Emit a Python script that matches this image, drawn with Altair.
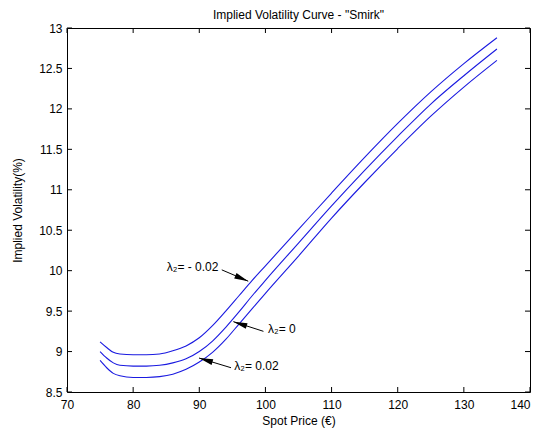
import math
import altair as alt
import pandas as pd

# ---- data ----
spot = [75, 76, 77, 78, 80, 82, 84, 86, 88, 90, 92, 94, 96, 98, 100,
        105, 110, 115, 120, 125, 130, 135]
vol_neg = [9.12, 9.05, 8.99, 8.97, 8.96, 8.96, 8.97, 9.01, 9.07, 9.17, 9.32,
           9.50, 9.69, 9.88, 10.06, 10.51, 10.96, 11.40, 11.82, 12.21, 12.56, 12.88]
vol_zero = [9.00, 8.92, 8.86, 8.83, 8.82, 8.82, 8.83, 8.86, 8.91, 9.00, 9.13,
            9.30, 9.49, 9.69, 9.88, 10.34, 10.80, 11.24, 11.66, 12.06, 12.41, 12.74]
vol_pos = [8.89, 8.80, 8.73, 8.70, 8.68, 8.68, 8.69, 8.72, 8.78, 8.87, 8.99,
           9.15, 9.34, 9.53, 9.72, 10.18, 10.65, 11.09, 11.51, 11.91, 12.27, 12.60]
series_names = ["λ2=-0.02", "λ2=0", "λ2=0.02"]

x_ticks = [70, 80, 90, 100, 110, 120, 130, 140]
y_ticks = [8.5, 9, 9.5, 10, 10.5, 11, 11.5, 12, 12.5, 13]

ann_labels = ["λ₂= - 0.02", "λ₂= 0", "λ₂= 0.02"]
ann_text_x = [92.9, 100.4, 95.3]
ann_text_y = [10.05, 9.28, 8.82]
ann_align = ["right", "left", "left"]
arrow_tail_x = [93.4, 99.7, 94.8]
arrow_tail_y = [10.01, 9.25, 8.80]
arrow_tip_x = [97.4, 95.15, 89.96]
arrow_tip_y = [9.87, 9.37, 8.92]

W, H = 463, 364
XMIN, XMAX, YMIN, YMAX = 70, 140, 8.5, 13
FONT = "Liberation Sans"
TL = 5  # tick length

rows = []
for name, vals in zip(series_names, [vol_neg, vol_zero, vol_pos]):
    for s, v in zip(spot, vals):
        rows.append({"spot": s, "vol": v, "series": name})
curves = pd.DataFrame(rows)

xs = alt.Scale(domain=[XMIN, XMAX], nice=False, zero=False)
ys = alt.Scale(domain=[YMIN, YMAX], nice=False, zero=False)

base_x = alt.X("spot:Q", scale=xs, title="Spot Price (€)",
               axis=alt.Axis(values=x_ticks, ticks=False, domain=False, grid=False,
                             labelPadding=7, titlePadding=5, format="d",
                             labelFlush=False,
                             labelAlign={"condition": {"test": "datum.value >= 140",
                                                       "value": "right"},
                                         "value": "center"}))
base_y = alt.Y("vol:Q", scale=ys, title="Implied Volatility(%)",
               axis=alt.Axis(values=y_ticks, ticks=False, domain=False, grid=False,
                             labelPadding=5, titlePadding=14, format="~g",
                             labelFlush=False))

lines = alt.Chart(curves).mark_line(color="#1a1ae0", strokeWidth=1.1,
                                    interpolate="monotone").encode(
    x=base_x, y=base_y, detail="series:N")

# inward ticks (MATLAB style)
xt = pd.DataFrame({"t": x_ticks})
yt = pd.DataFrame({"t": y_ticks})
tick_b = alt.Chart(xt).mark_rule(color="black", strokeWidth=1).encode(
    x=alt.X("t:Q", scale=xs), y=alt.value(H), y2=alt.value(H - TL))
tick_t = alt.Chart(xt).mark_rule(color="black", strokeWidth=1).encode(
    x=alt.X("t:Q", scale=xs), y=alt.value(0), y2=alt.value(TL))
tick_l = alt.Chart(yt).mark_rule(color="black", strokeWidth=1).encode(
    y=alt.Y("t:Q", scale=ys), x=alt.value(0), x2=alt.value(TL))
tick_r = alt.Chart(yt).mark_rule(color="black", strokeWidth=1).encode(
    y=alt.Y("t:Q", scale=ys), x=alt.value(W), x2=alt.value(W - TL))

# annotations
ann = pd.DataFrame({"label": ann_labels, "tx": ann_text_x, "ty": ann_text_y,
                    "align": ann_align})
texts = []
for al in ["left", "right"]:
    texts.append(alt.Chart(ann[ann["align"] == al]).mark_text(
        align=al, baseline="middle", fontSize=12, font=FONT, color="black").encode(
        x=alt.X("tx:Q", scale=xs), y=alt.Y("ty:Q", scale=ys), text="label:N"))

sx = W / (XMAX - XMIN)
sy = H / (YMAX - YMIN)
angles = []
for ax0, ay0, bx, by in zip(arrow_tail_x, arrow_tail_y, arrow_tip_x, arrow_tip_y):
    dx = (bx - ax0) * sx
    dy = -(by - ay0) * sy  # screen down positive
    angles.append(math.degrees(math.atan2(dx, -dy)) % 360)
arr = pd.DataFrame({"x0": arrow_tail_x, "y0": arrow_tail_y, "x1": arrow_tip_x,
                    "y1": arrow_tip_y, "ang": angles})
shafts = alt.Chart(arr).mark_rule(color="black", strokeWidth=1).encode(
    x=alt.X("x0:Q", scale=xs), y=alt.Y("y0:Q", scale=ys), x2="x1:Q", y2="y1:Q")
heads = alt.Chart(arr).mark_point(
    shape="M0,0 L0.42,2 L-0.42,2 Z", filled=True, color="black", opacity=1,
    size=196).encode(
    x=alt.X("x1:Q", scale=xs), y=alt.Y("y1:Q", scale=ys),
    angle=alt.Angle("ang:Q", scale=None))

chart = alt.layer(lines, tick_b, tick_t, tick_l, tick_r, shafts, heads, *texts).properties(
    width=W, height=H,
    title=alt.Title('Implied Volatility Curve - "Smirk"', fontSize=12, font=FONT,
                    fontWeight="normal", color="black", offset=0),
    autosize=alt.AutoSizeParams(type="none"),
    padding={"left": 59, "top": 20, "right": 1, "bottom": 37},
    background="white",
).configure_view(stroke="black", strokeWidth=1).configure_axis(
    labelFont=FONT, titleFont=FONT, labelFontSize=12, titleFontSize=12,
    labelColor="black", titleColor="black", titleFontWeight="normal"
)

chart.save("out.html", embed_options={"renderer": "svg", "actions": False})
